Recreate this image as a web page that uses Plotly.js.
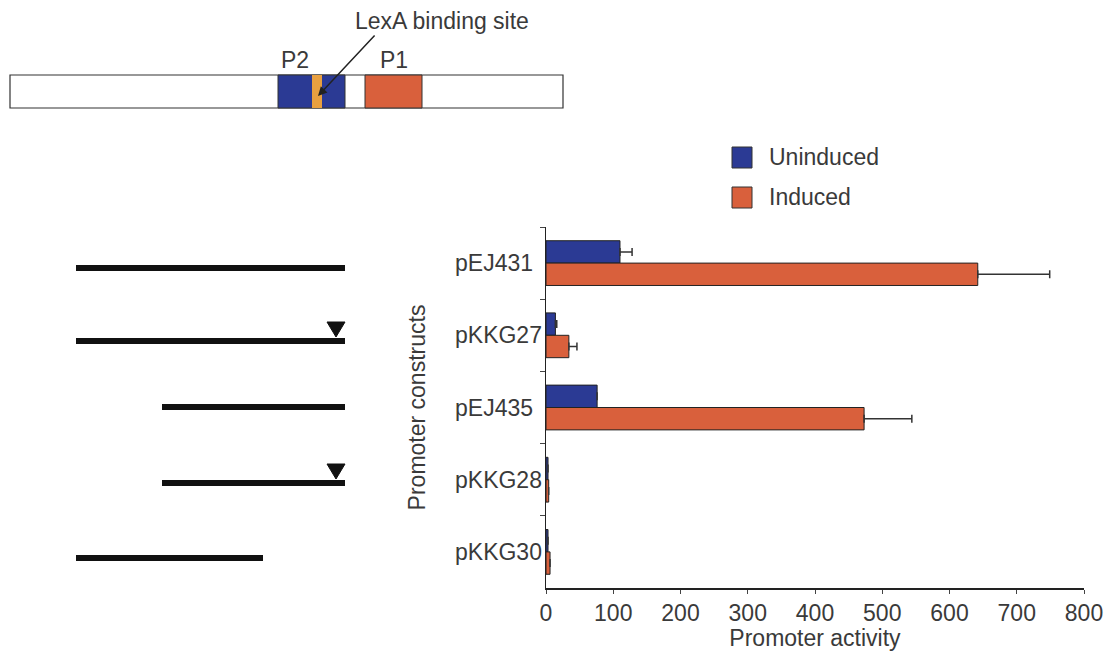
<!DOCTYPE html>
<html>
<head>
<meta charset="utf-8">
<script src="https://cdn.plot.ly/plotly-3.0.1.min.js"></script>
<style>html,body{margin:0;padding:0;background:#fff}#chart{width:1104px;height:651px}</style>
</head>
<body>
<div id="chart"></div>
<script>
// Data
const constructs = ["pEJ431", "pKKG27", "pEJ435", "pKKG28", "pKKG30"];
const seriesNames = ["Uninduced", "Induced"];
const uninduced = [110, 14, 76, 3, 3];
const uninducedErr = [18, 2, 0, 0, 0];
const induced = [642, 34, 473, 4, 6];
const inducedErr = [107, 12, 71, 0, 0];
const xTicks = [0, 100, 200, 300, 400, 500, 600, 700, 800];

const W = 1104, H = 651;
const px = x => x / W;
const py = y => 1 - y / H;

const blue = "#2b3a94";
const orange = "#d9603c";
const txt = "#3a3a3a";
const font = "Liberation Sans, Arial, sans-serif";
const FS = 23;

const traces = [
  {
    type: "bar", orientation: "h", name: seriesNames[0], showlegend: false,
    y: constructs, x: uninduced,
    error_x: {type: "data", symmetric: false, array: uninducedErr, arrayminus: uninducedErr.map(() => 0), visible: true, color: "#333", thickness: 1.5, width: 4},
    marker: {color: blue, line: {color: "#222", width: 1}}
  },
  {
    type: "bar", orientation: "h", name: seriesNames[1], showlegend: false,
    y: constructs, x: induced,
    error_x: {type: "data", symmetric: false, array: inducedErr, arrayminus: inducedErr.map(() => 0), visible: true, color: "#333", thickness: 1.5, width: 4},
    marker: {color: orange, line: {color: "#222", width: 1}}
  }
];

const shapes = [];
// top gene map
shapes.push({type: "rect", xref: "paper", yref: "paper", x0: px(10), x1: px(563), y0: py(108), y1: py(75), line: {color: "#333", width: 1.2}, fillcolor: "white"});
shapes.push({type: "rect", xref: "paper", yref: "paper", x0: px(278), x1: px(345), y0: py(108), y1: py(75), line: {color: "#333", width: 1}, fillcolor: blue});
shapes.push({type: "rect", xref: "paper", yref: "paper", x0: px(312), x1: px(322), y0: py(108), y1: py(75), line: {width: 0}, fillcolor: "#e8a040"});
shapes.push({type: "rect", xref: "paper", yref: "paper", x0: px(365), x1: px(422), y0: py(108), y1: py(75), line: {color: "#333", width: 1}, fillcolor: orange});
// construct lines
const segs = [[76, 345, 268], [76, 345, 341], [162, 345, 407], [162, 345, 483], [76, 263, 558]];
segs.forEach(s => shapes.push({type: "line", xref: "paper", yref: "paper", x0: px(s[0]), x1: px(s[1]), y0: py(s[2]), y1: py(s[2]), line: {color: "#111", width: 6}}));
// triangles
[[336, 322, 337], [336, 464, 479]].forEach(t => {
  shapes.push({type: "path", xref: "paper", yref: "paper",
    path: `M ${px(t[0]-9)} ${py(t[1])} L ${px(t[0]+9)} ${py(t[1])} L ${px(t[0])} ${py(t[2])} Z`,
    fillcolor: "#111", line: {color: "#111", width: 1}});
});
// legend swatches
shapes.push({type: "rect", xref: "paper", yref: "paper", x0: px(732), x1: px(752), y0: py(168), y1: py(147), line: {color: "#333", width: 1}, fillcolor: blue});
shapes.push({type: "rect", xref: "paper", yref: "paper", x0: px(732), x1: px(752), y0: py(208), y1: py(187), line: {color: "#333", width: 1}, fillcolor: orange});

const tf = {family: font, size: FS, color: txt};
const annotations = [
  {xref: "paper", yref: "paper", x: px(295), y: py(60), xanchor: "center", yanchor: "middle", text: "P2", showarrow: false, font: tf},
  {xref: "paper", yref: "paper", x: px(394), y: py(60), xanchor: "center", yanchor: "middle", text: "P1", showarrow: false, font: tf},
  {xref: "paper", yref: "paper", x: px(318), y: py(96), ax: px(376), ay: py(34), axref: "paper", ayref: "paper",
   text: "", showarrow: true, arrowhead: 2, arrowsize: 1.2, arrowwidth: 1.5, arrowcolor: "#222"},
  {xref: "paper", yref: "paper", x: px(442), y: py(21), xanchor: "center", yanchor: "middle", text: "LexA binding site", showarrow: false, font: tf},
  {xref: "paper", yref: "paper", x: px(767), y: py(157), xanchor: "left", yanchor: "middle", text: seriesNames[0], showarrow: false, font: tf},
  {xref: "paper", yref: "paper", x: px(767), y: py(197), xanchor: "left", yanchor: "middle", text: seriesNames[1], showarrow: false, font: tf}
];
// left-aligned category labels
constructs.forEach(c => annotations.push({xref: "paper", yref: "y", x: px(453), y: c, xanchor: "left", yanchor: "middle", text: c, showarrow: false, font: tf}));

const layout = {
  width: W, height: H,
  margin: {l: 0, r: 0, t: 0, b: 0},
  paper_bgcolor: "white", plot_bgcolor: "white",
  barmode: "group", bargap: 0.38, bargroupgap: 0,
  font: tf,
  showlegend: false,
  xaxis: {
    domain: [px(546), px(1084)], range: [0, 800],
    tickvals: xTicks, ticktext: xTicks.map(String),
    showline: true, linecolor: "#222", linewidth: 1.5,
    ticks: "outside", ticklen: 4, tickcolor: "#444",
    showgrid: false, zeroline: false, automargin: false,
    tickfont: tf,
    title: {text: "Promoter activity", font: tf, standoff: 0},
    anchor: "y"
  },
  yaxis: {
    domain: [py(588), py(227)],
    autorange: "reversed", type: "category",
    showline: true, linecolor: "#222", linewidth: 1.5,
    ticks: "outside", ticklen: 5, tickcolor: "#444", tickson: "boundaries",
    showticklabels: false,
    showgrid: false, zeroline: false, automargin: false,
    tickfont: tf,
    title: {text: "Promoter constructs", font: tf, standoff: 112},
    anchor: "x"
  },
  shapes: shapes,
  annotations: annotations
};

Plotly.newPlot("chart", traces, layout, {displayModeBar: false, staticPlot: true});
</script>
</body>
</html>
